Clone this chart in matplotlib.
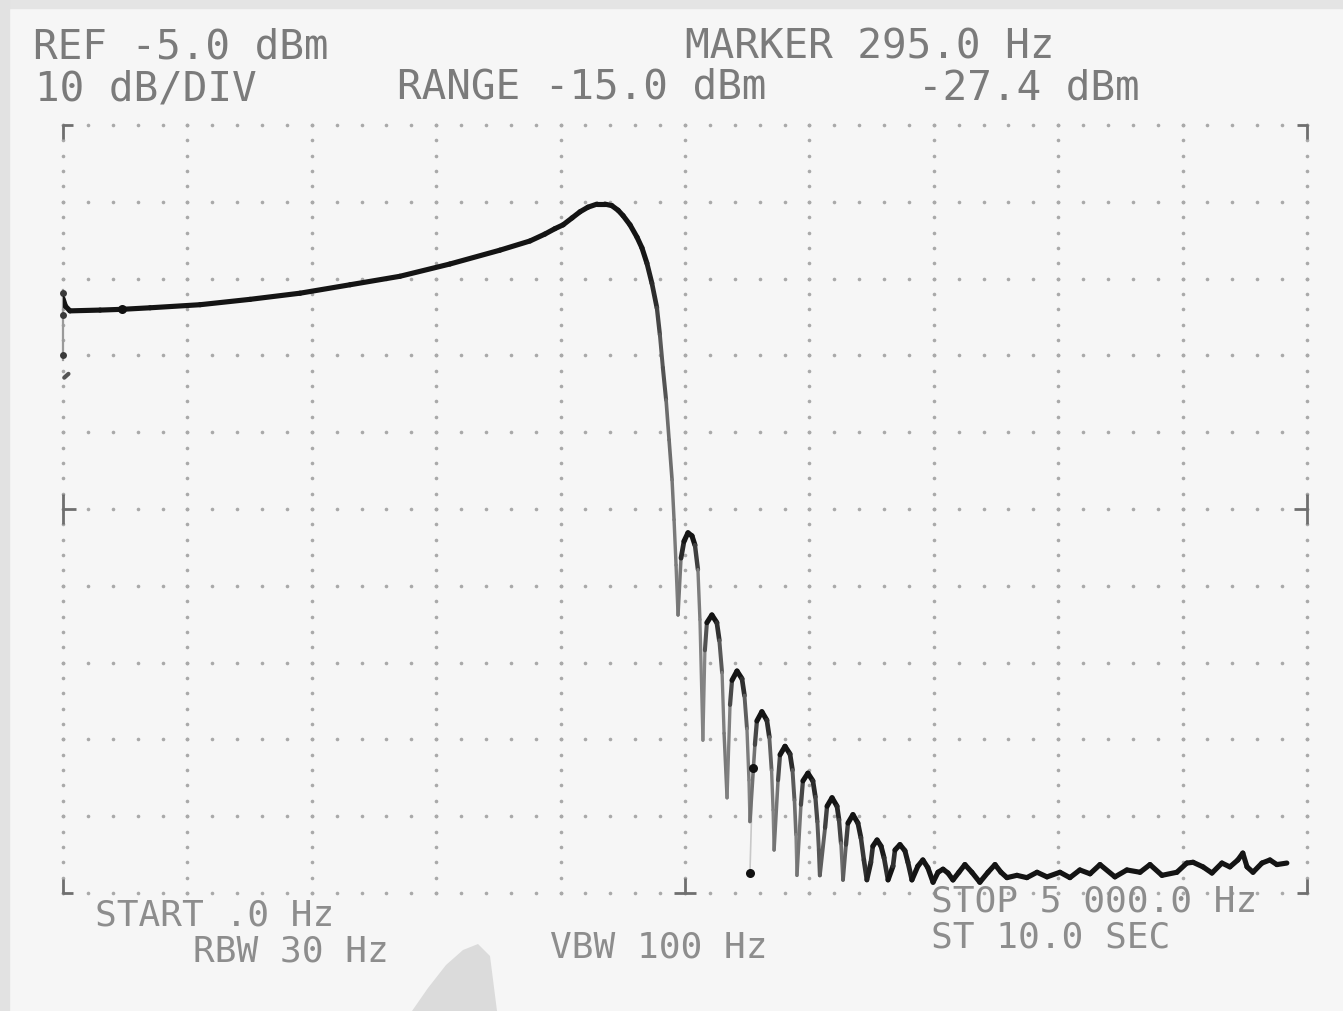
import numpy as np
import matplotlib
matplotlib.use("Agg")
import matplotlib.pyplot as plt
from matplotlib.collections import LineCollection
from matplotlib.patches import Rectangle, Polygon

# ---------------- instrument settings ----------------
ref_level_dbm = -5.0
db_per_div = 10
n_ydiv = 10
start_hz = 0.0
stop_hz = 5000.0
n_xdiv = 10

header_texts = ["REF -5.0 dBm", "MARKER 295.0 Hz", "10 dB/DIV", "RANGE -15.0 dBm", "-27.4 dBm"]
footer_texts = ["START .0 Hz", "RBW 30 Hz", "VBW 100 Hz", "STOP 5 000.0 Hz", "ST 10.0 SEC"]

# ---------------- trace data ----------------
passband_hz = [0, 10, 28, 149, 237, 350, 551, 752, 953, 1154, 1354, 1555, 1756, 1877,
               1937, 1977, 2010, 2046, 2078, 2110, 2146, 2178, 2206, 2231, 2251, 2279,
               2307, 2327, 2347, 2367, 2387, 2399, 2411, 2424, 2436, 2448, 2456, 2464, 2472]
passband_dbm = [-27.6, -28.6, -29.2, -29.1, -29.0, -28.8, -28.4, -27.7, -26.9, -25.8, -24.7, -23.1, -21.3, -20.1,
                -19.2, -18.5, -18.0, -17.1, -16.3, -15.7, -15.3, -15.3, -15.5, -16.1, -16.8, -18.0,
                -19.6, -21.0, -23.0, -25.6, -28.8, -32.3, -36.6, -40.8, -46.0, -51.2, -56.4, -62.3, -68.8]

sidelobe_hz = [2484, 2496, 2512, 2528, 2540, 2552, 2560, 2572,
               2580, 2588, 2608, 2628, 2638, 2649, 2657, 2669,
               2681, 2689, 2709, 2729, 2739, 2749, 2757, 2761,
               2781, 2789, 2809, 2829, 2839, 2848, 2854, 2858,
               2874, 2882, 2902, 2922, 2932, 2940, 2946, 2950,
               2966, 2974, 2994, 3014, 3024, 3032, 3038, 3042,
               3063, 3071, 3091, 3111, 3119, 3127, 3135,
               3147, 3155, 3175, 3195, 3207, 3219, 3231,
               3247, 3255, 3272, 3288, 3300, 3316,
               3336, 3344, 3364, 3384, 3396, 3412]
sidelobe_dbm = [-61.4, -59.2, -58.1, -58.5, -59.7, -62.9, -69.4, -85.1,
                -73.4, -69.8, -68.8, -69.8, -72.1, -76.3, -84.2, -92.6,
                -80.5, -77.3, -76.1, -77.1, -79.3, -83.6, -90.3, -95.7,
                -85.7, -82.6, -81.4, -82.5, -84.7, -89.0, -94.2, -99.4,
                -90.3, -87.0, -85.9, -86.9, -89.0, -92.9, -97.4, -102.7,
                -93.5, -90.4, -89.4, -90.4, -92.5, -95.7, -99.4, -102.7,
                -96.5, -93.7, -92.6, -93.7, -95.5, -98.5, -103.3,
                -98.7, -95.9, -94.8, -95.9, -97.8, -100.7, -103.3,
                -101.0, -98.9, -98.1, -98.9, -100.4, -103.3,
                -101.5, -99.4, -98.7, -99.5, -101.0, -103.3]

noise_hz = [3436, 3456, 3476, 3497, 3517, 3537, 3557, 3577, 3601, 3625,
            3653, 3685, 3718, 3746, 3770, 3794, 3834, 3874, 3915, 3955,
            4007, 4047, 4087, 4128, 4168, 4228, 4276, 4329, 4369, 4417,
            4477, 4517, 4542, 4582, 4618, 4658, 4690, 4722, 4742, 4759,
            4783, 4819, 4851, 4879, 4919]
noise_dbm = [-101.5, -100.7, -101.7, -103.6, -102.3, -101.9, -102.4, -103.3, -102.3, -101.3,
             -102.3, -103.6, -102.3, -101.3, -102.3, -103.0, -102.7, -103.0, -102.3, -102.9,
             -102.3, -103.0, -102.0, -102.5, -101.3, -102.9, -102.0, -102.3, -101.3, -102.7,
             -102.3, -101.1, -101.0, -101.6, -102.4, -101.1, -101.6, -100.7, -99.8, -101.6,
             -102.3, -101.1, -100.7, -101.3, -101.1]

marker_hz = [237]
marker_dbm = [-29.0]
delta_marker_hz = [2773, 2761]
delta_marker_dbm = [-88.7, -102.4]

spike_hz = [0, 0, 0]
spike_dbm = [-26.9, -29.7, -34.9]
spike_line_dbm = [-26.5, -35.6]

# ---------------- figure ----------------
W, H = 1343, 1011
fig = plt.figure(figsize=(W / 100, H / 100), dpi=100, facecolor="#f6f6f6")

def fx(px):
    return px / W

def fy(py):
    return 1 - py / H

# photo frame edges
fig.patches.append(Rectangle((0, fy(8)), 1, 8 / H, transform=fig.transFigure,
                             color="#e4e4e4", zorder=0))
fig.patches.append(Rectangle((0, 0), 9 / W, 1, transform=fig.transFigure,
                             color="#e2e2e2", zorder=0))
# faint photographic smudge at bottom
smudge = [(412, 1011), (428, 988), (446, 965), (463, 950), (478, 944), (490, 956), (497, 1011)]
fig.patches.append(Polygon([(fx(a), fy(b)) for a, b in smudge], closed=True,
                           transform=fig.transFigure, color="#d2d2d2", alpha=0.75, zorder=0, lw=0))

left_px, right_px, top_px, bot_px = 63, 1307, 125, 893
ax = fig.add_axes([fx(left_px), fy(bot_px), (right_px - left_px) / W, (bot_px - top_px) / H])
ax.set_xlim(start_hz, stop_hz)
bottom_dbm = ref_level_dbm - n_ydiv * db_per_div
ax.set_ylim(bottom_dbm, ref_level_dbm)
ax.axis("off")
ax.patch.set_alpha(0)

# dotted graticule
dot_col = "#a9a9a9"
xs_lines = np.linspace(start_hz, stop_hz, n_xdiv + 1)
ys_lines = np.linspace(bottom_dbm, ref_level_dbm, n_ydiv + 1)
xs_dots = np.linspace(start_hz, stop_hz, n_xdiv * 5 + 1)
ys_dots = np.linspace(bottom_dbm, ref_level_dbm, n_ydiv * 5 + 1)
for y in ys_lines:
    ax.plot(xs_dots, np.full_like(xs_dots, y), ls="none", marker="o", ms=2.6,
            mec="none", color=dot_col, clip_on=False, zorder=1)
for x in xs_lines:
    ax.plot(np.full_like(ys_dots, x), ys_dots, ls="none", marker="o", ms=2.6,
            mec="none", color=dot_col, clip_on=False, zorder=1)

# corner and centre marks (axes fraction)
mk = dict(color="#6f6f6f", lw=2.0, transform=ax.transAxes, clip_on=False, zorder=2,
          solid_capstyle="butt")
hx, hy = 10 / (right_px - left_px), 14 / (bot_px - top_px)
ax.plot([0, 0, hx], [1 - hy, 1, 1], **mk)
ax.plot([1 - hx, 1, 1], [1, 1, 1 - hy], **mk)
ax.plot([0, 0, hx], [hy, 0, 0], **mk)
ax.plot([1 - hx, 1, 1], [0, 0, hy], **mk)
ax.plot([0, 0], [0.5 - 1.1 * hy, 0.5 + 1.1 * hy], **mk)
ax.plot([0, 1.3 * hx], [0.5, 0.5], **mk)
ax.plot([1, 1], [0.5 - 1.1 * hy, 0.5 + 1.1 * hy], **mk)
ax.plot([1 - 1.3 * hx, 1], [0.5, 0.5], **mk)
ax.plot([0.5, 0.5], [0, 1.1 * hy], **mk)
ax.plot([0.5 - 1.1 * hx, 0.5 + 1.1 * hx], [0, 0], **mk)

# zero-frequency feedthrough spike
ax.plot([0, 0], spike_line_dbm, color="#9a9a9a", lw=1.6, zorder=3, clip_on=False)
ax.plot(spike_hz, spike_dbm, ls="none", marker="o", ms=5, color="#3a3a3a", mec="none",
        zorder=4, clip_on=False)
ax.plot([5, 22], [-37.9, -37.4], color="#555555", lw=3, zorder=3, clip_on=False,
        solid_capstyle="round")

# main trace, brightness depends on beam speed
trace_hz = np.array(passband_hz + sidelobe_hz + noise_hz, dtype=float)
trace_db = np.array(passband_dbm + sidelobe_dbm + noise_dbm, dtype=float)
fig.canvas.draw()
disp = ax.transData.transform(np.column_stack([trace_hz, trace_db]))
segs_data = np.stack([np.column_stack([trace_hz[:-1], trace_db[:-1]]),
                      np.column_stack([trace_hz[1:], trace_db[1:]])], axis=1)
dx = np.abs(np.diff(disp[:, 0]))
dy = np.abs(np.diff(disp[:, 1]))
steep = dy / (dx + dy + 1e-9)
fade = np.clip((steep - 0.75) / 0.25, 0, 1) * np.clip(dy / 40, 0.2, 1)
grey = 0.08 + 0.48 * fade
colors = [(g, g, g, 1) for g in grey]
widths = 3.7 - 1.5 * fade
lc = LineCollection(segs_data, colors=colors, linewidths=widths, capstyle="round",
                    joinstyle="round", zorder=5)
ax.add_collection(lc)

# delta marker link and markers
ax.plot(delta_marker_hz, delta_marker_dbm, color="#c8c8c8", lw=1.2, zorder=4)
ax.plot(delta_marker_hz, delta_marker_dbm, ls="none", marker="o", ms=6.5, color="#111111",
        mec="none", zorder=6)
ax.plot(marker_hz, marker_dbm, ls="none", marker="o", ms=6.5, color="#111111",
        mec="none", zorder=6)

# ---------------- annotation text ----------------
font = dict(family="DejaVu Sans Mono", ha="left", va="baseline")
top_col = "#7b7b7b"
bot_col = "#8d8d8d"
top_fs, bot_fs = 29.5, 26.0
hdr_pos = [(33, 58), (685, 58), (35, 100), (397, 99), (918, 100)]
for t, (px, py) in zip(header_texts, hdr_pos):
    fig.text(fx(px), fy(py), t, fontsize=top_fs, color=top_col, **font)
ftr_pos = [(95, 926), (193, 962), (550, 958), (931, 912), (931, 948)]
for t, (px, py) in zip(footer_texts, ftr_pos):
    fig.text(fx(px), fy(py), t, fontsize=bot_fs, color=bot_col, **font)

fig.savefig("out.png", dpi=100, facecolor=fig.get_facecolor())
